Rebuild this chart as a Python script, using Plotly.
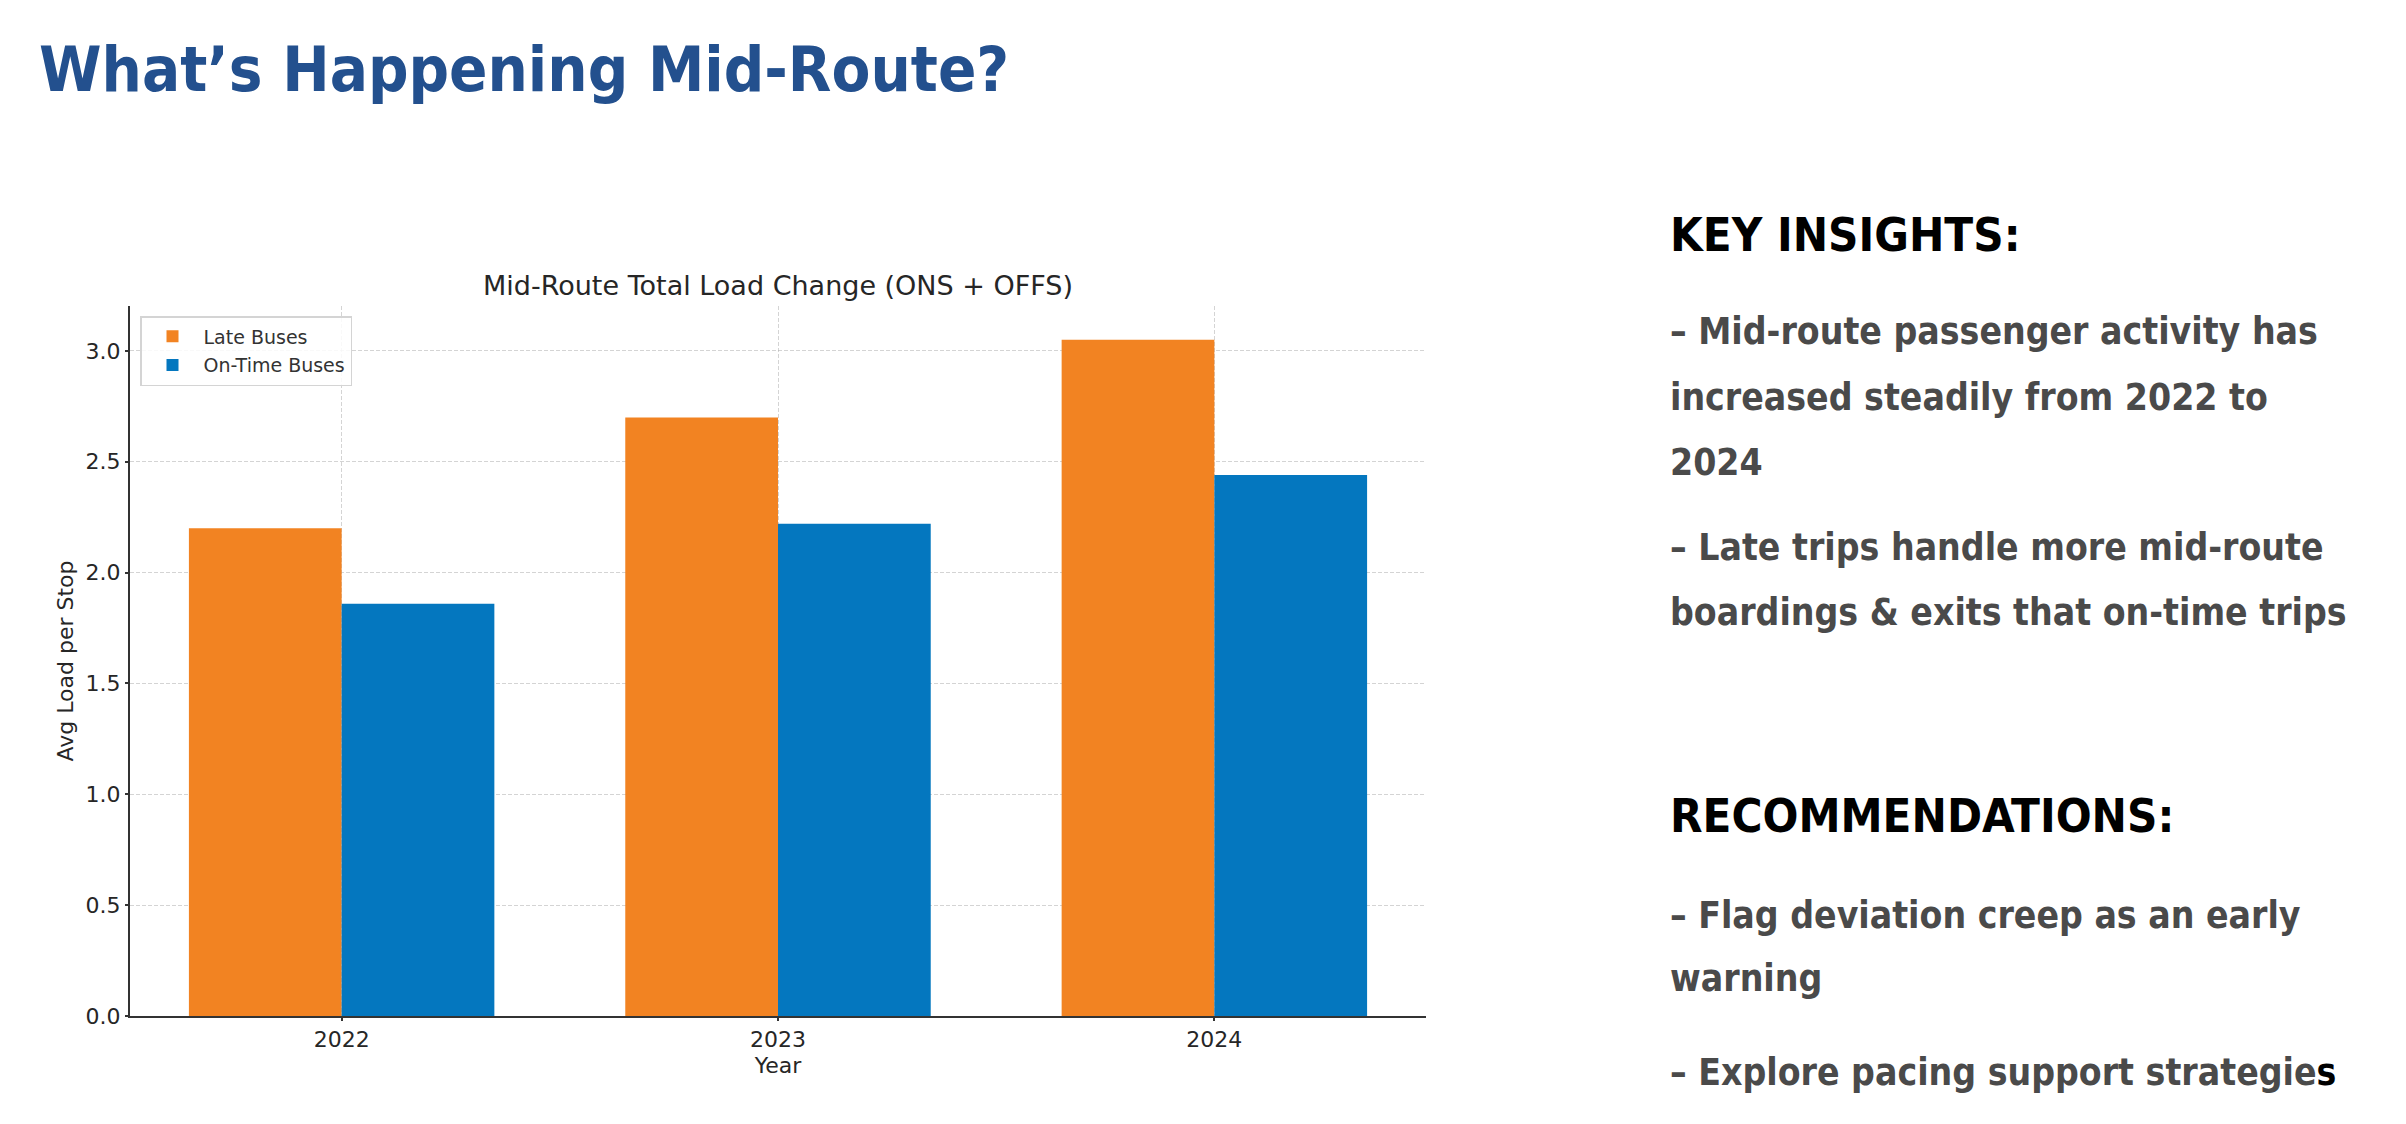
import plotly.graph_objects as go

years = ["2022", "2023", "2024"]
late_buses = [2.20, 2.70, 3.05]
on_time_buses = [1.86, 2.22, 2.44]
y_ticks = [0.0, 0.5, 1.0, 1.5, 2.0, 2.5, 3.0]

OFF = 8                      # default page margin of the html body
W, H = 2406 - OFF, 1124 - OFF
# plot area, in page pixels
PL, PR, PT, PB = 130, 1426, 306, 1016
L, R, T, B = PL - OFF, PR - OFF, PT - OFF, PB - OFF
ORANGE = "#F28322"
BLUE = "#0477BF"
GRID = "rgba(170,170,170,0.5)"
CHART_FONT = "DejaVu Sans"
SLIDE_FONT = "Liberation Sans Narrow, DejaVu Sans Condensed, Roboto Condensed, Open Sans Condensed, Noto Sans, sans-serif"


def dx(xpage):
    return (xpage - OFF - L) / (R - L)


def dy(ypage):
    return (B - (ypage - OFF)) / (B - T)


fig = go.Figure()
fig.add_trace(go.Bar(x=years, y=late_buses, name="Late Buses", marker_color=ORANGE,
                     width=0.35, offset=-0.35, marker_line_width=0, legendgroup="a"))
fig.add_trace(go.Bar(x=years, y=on_time_buses, name="On-Time Buses", marker_color=BLUE,
                     width=0.35, offset=0.0, marker_line_width=0, legendgroup="b"))

axis_common = dict(
    automargin=False, showline=True, linecolor="#333333", linewidth=2, mirror=False,
    ticks="outside", ticklen=3, tickwidth=1.5, tickcolor="#333333",
    showgrid=True, gridcolor=GRID, gridwidth=1, griddash="4px,2px",
    tickfont=dict(family=CHART_FONT, size=22, color="#262626"),
    zeroline=False, layer="above traces",
)

fig.update_layout(
    width=W, height=H,
    margin=dict(l=L, r=W - R, t=T, b=H - B, autoexpand=False),
    paper_bgcolor="white", plot_bgcolor="white",
    barmode="overlay",
    showlegend=True,
    legend=dict(x=dx(140), y=dy(316), xanchor="left", yanchor="top",
                bgcolor="rgba(255,255,255,0.85)", bordercolor="#d4d4d4", borderwidth=1.5,
                font=dict(family=CHART_FONT, size=19, color="#333333"),
                tracegroupgap=1, itemwidth=52, itemsizing="constant"),
    xaxis=dict(type="category", range=[-0.485, 2.485],
               title=dict(text="Year", standoff=6,
                          font=dict(family=CHART_FONT, size=22, color="#262626")),
               **axis_common),
    yaxis=dict(range=[0, 3.2025], tickvals=y_ticks, tickformat=".1f",
               title=dict(text="Avg Load per Stop", standoff=6,
                          font=dict(family=CHART_FONT, size=22, color="#262626")),
               **axis_common),
)

annotations = []
annotations.append(dict(text="<b>What’s Happening Mid-Route?</b>", x=dx(37), y=dy(69),
                        xref="x domain", yref="y domain",
                        xanchor="left", yanchor="middle", showarrow=False,
                        font=dict(family=SLIDE_FONT, size=63, color="#23508E")))
annotations.append(dict(text="Mid-Route Total Load Change (ONS + OFFS)", x=0.5, y=dy(285),
                        xref="x domain", yref="y domain",
                        xanchor="center", yanchor="middle", showarrow=False,
                        font=dict(family=CHART_FONT, size=27, color="#262626")))

GRAY = "#4A4A4A"
HEAD = 47
BODY = 37
lines = [
    ("<b>KEY INSIGHTS:</b>", 235, "#000000", HEAD),
    ("<b>– Mid-route passenger activity has</b>", 332, GRAY, BODY),
    ("<b>increased steadily from 2022 to</b>", 397, GRAY, BODY),
    ("<b>2024</b>", 462, GRAY, BODY),
    ("<b>– Late trips handle more mid-route</b>", 547, GRAY, BODY),
    ("<b>boardings &amp; exits that on-time trips</b>", 612, GRAY, BODY),
    ("<b>RECOMMENDATIONS:</b>", 815, "#000000", HEAD),
    ("<b>– Flag deviation creep as an early</b>", 915, GRAY, BODY),
    ("<b>warning</b>", 978, GRAY, BODY),
    ("<b>– Explore pacing support strategie<span style='color:#000000'>s</span></b>", 1072, GRAY, BODY),
]
for text, yc, color, size in lines:
    annotations.append(dict(text=text, x=dx(1668), y=dy(yc), xref="x domain", yref="y domain",
                            xanchor="left", yanchor="middle",
                            showarrow=False, align="left",
                            font=dict(family=SLIDE_FONT, size=size, color=color)))

fig.update_layout(annotations=annotations)
fig.write_html("out.html")
